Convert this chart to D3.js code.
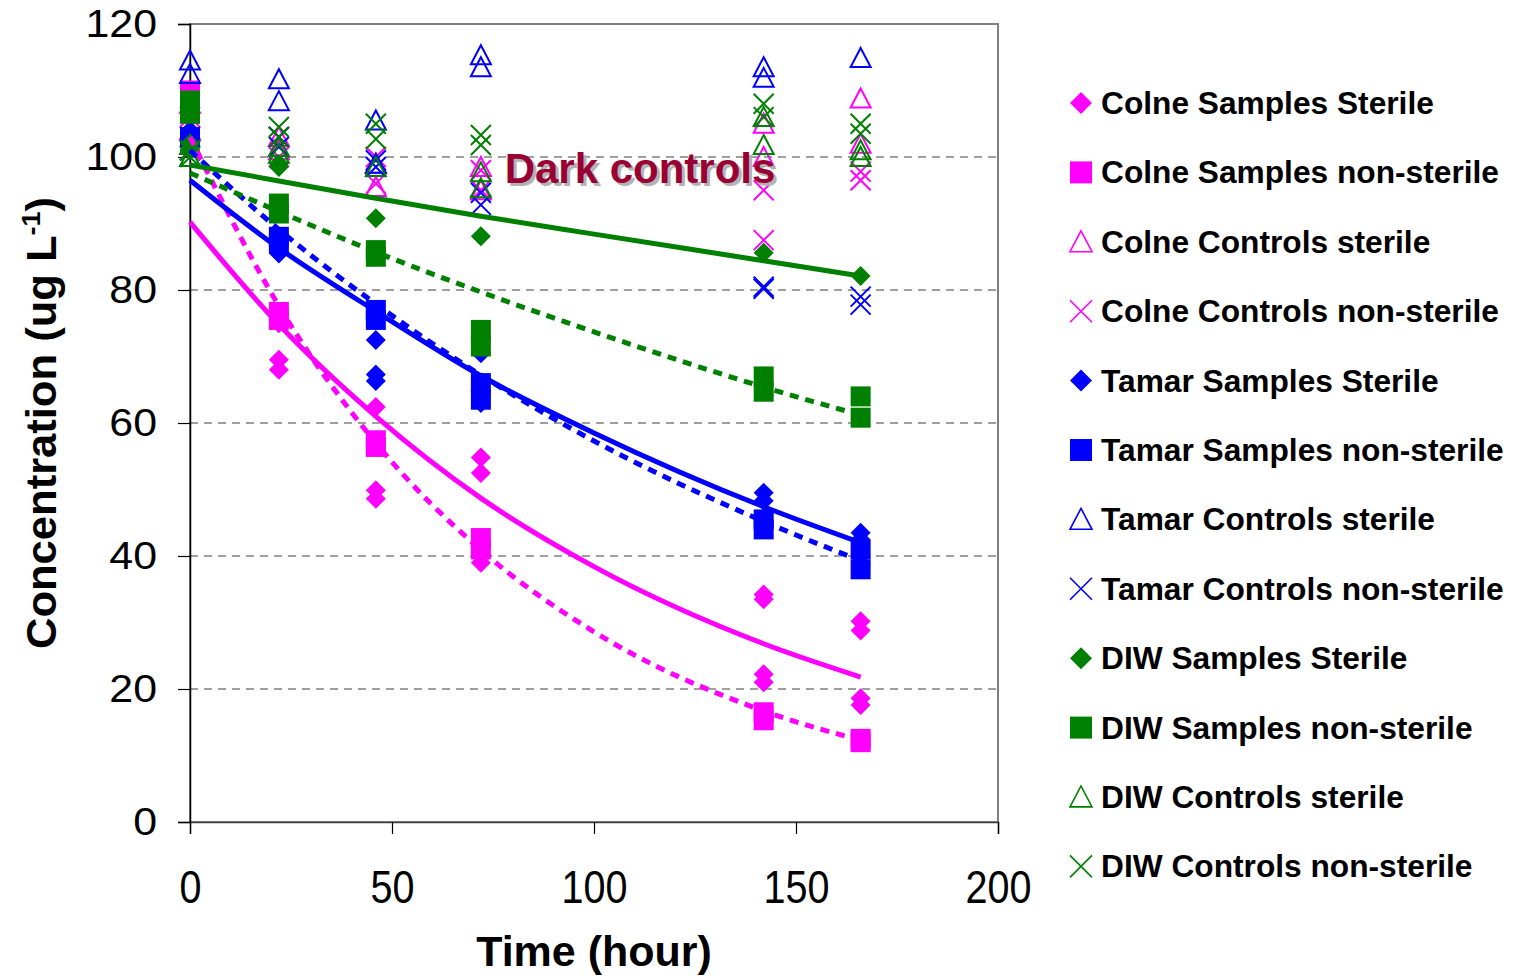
<!DOCTYPE html>
<html>
<head>
<meta charset="utf-8">
<script src="https://cdn.jsdelivr.net/npm/d3@7"></script>
<style>
  body { margin: 0; background: #fff; }
  svg text { font-family: Arial, "Liberation Sans", sans-serif; }
</style>
</head>
<body>
<svg width="1514" height="976"></svg>
<script>
// sampling times (hours)
const times = [0, 22, 46, 72, 142, 166];

// replicate values at each time
const colneSamplesSterile = [[101, 103], [76.5, 75, 69.5, 68], [62.4, 57, 49.9, 48.6], [54.8, 52.5, 40, 39], [34.2, 33.5, 22.2, 21], [30.2, 28.8, 18.6, 17.6]];
const colneSamplesNonSterile = [[110, 106.5], [76.7, 75.5], [57.4, 56.4], [42.7, 41], [16.5, 15.3], [12.5, 12]];
const colneControlsSterile = [[108, 104], [103, 101], [99, 95.5], [98.5, 95], [105, 100], [108.8, 102]];
const colneControlsNonSterile = [[106, 101], [103, 100], [100, 96], [98, 95], [95, 87.5], [97.8, 96.5]];
const tamarSamplesSterile = [[104, 101], [86.5, 85.5], [76, 72.5, 67.3, 66.3], [70.5, 65, 64, 63], [49.5, 48.3, 45, 44.5], [43.5, 42.5, 40, 39]];
const tamarSamplesNonSterile = [[108, 103], [88, 87], [77, 75.5], [66, 63.5], [45.5, 44], [41, 38]];
const tamarControlsSterile = [[114.5, 112.5], [111.7, 108.4], [105.5, 99], [115.3, 113.5], [113.5, 111.9], [114.9]];
const tamarControlsNonSterile = [[103, 101], [103, 101.5], [99.5, 98.5], [94.6, 92.8], [80.5, 80.2], [79, 77.8]];
const diwSamplesSterile = [[102, 101], [99, 98.5], [90.8], [88.1], [85.6], [82.1]];
const diwSamplesNonSterile = [[108.5, 106.5], [93, 91.5], [86, 85], [74, 71.5], [67, 64.7], [64, 60.8]];
const diwControlsSterile = [[101.8, 100], [101.5, 100.5], [98.5], [97.7, 95.3], [106, 101.8], [101, 100]];
const diwControlsNonSterile = [[101, 100], [104.5, 103], [105, 102.7], [103.3, 101.8], [108, 106], [105, 103.5]];

// trend lines
const trendTimes = [0, 22, 46, 72, 100, 142, 166];
const colneSterileTrend = [90.2, 74.8, 61.0, 48.7, 38.4, 26.8, 21.8];
const colneNonSterileTrend = [103, 77.6, 57.0, 40.9, 28.6, 16.7, 12.3];
const tamarSterileTrend = [96.5, 86.3, 76.8, 67.1, 58.5, 47.4, 42.0];
const tamarNonSterileTrend = [101, 89.1, 77.9, 67.2, 57.3, 45.2, 39.3];
const diwSterileTrend = [98.8, 96.4, 93.8, 91.1, 88.4, 84.4, 82.1];
const diwNonSterileTrend = [97.6, 91.8, 85.7, 79.7, 73.7, 65.4, 61.2];

const xTicks = [0, 50, 100, 150, 200];
const yTicks = [0, 20, 40, 60, 80, 100, 120];
const gridValues = [20, 40, 60, 80, 100];

const magenta = '#ff00ff', blue = '#0000ff', green = '#008000';

const series = [
  { name: 'Colne Samples Sterile', color: magenta, shape: 'diamond', values: colneSamplesSterile },
  { name: 'Colne Samples non-sterile', color: magenta, shape: 'square', values: colneSamplesNonSterile },
  { name: 'Colne Controls sterile', color: magenta, shape: 'triangle', values: colneControlsSterile },
  { name: 'Colne Controls non-sterile', color: magenta, shape: 'cross', values: colneControlsNonSterile },
  { name: 'Tamar Samples Sterile', color: blue, shape: 'diamond', values: tamarSamplesSterile },
  { name: 'Tamar Samples non-sterile', color: blue, shape: 'square', values: tamarSamplesNonSterile },
  { name: 'Tamar Controls sterile', color: blue, shape: 'triangle', values: tamarControlsSterile },
  { name: 'Tamar Controls non-sterile', color: blue, shape: 'cross', values: tamarControlsNonSterile },
  { name: 'DIW Samples Sterile', color: green, shape: 'diamond', values: diwSamplesSterile },
  { name: 'DIW Samples non-sterile', color: green, shape: 'square', values: diwSamplesNonSterile },
  { name: 'DIW Controls sterile', color: green, shape: 'triangle', values: diwControlsSterile },
  { name: 'DIW Controls non-sterile', color: green, shape: 'cross', values: diwControlsNonSterile }
];

const trends = [
  { color: magenta, dashed: false, values: colneSterileTrend },
  { color: magenta, dashed: true, values: colneNonSterileTrend },
  { color: blue, dashed: false, values: tamarSterileTrend },
  { color: blue, dashed: true, values: tamarNonSterileTrend },
  { color: green, dashed: false, values: diwSterileTrend },
  { color: green, dashed: true, values: diwNonSterileTrend }
];

const svg = d3.select('svg');

const plot = { left: 190, right: 998, top: 24, bottom: 822 };

const xScale = d3.scaleLinear().domain([0, 200]).range([plot.left, plot.right]);
const yScale = d3.scaleLinear().domain([0, 120]).range([plot.bottom, plot.top]);

// plot frame
svg.append('rect')
  .attr('x', plot.left).attr('y', plot.top)
  .attr('width', plot.right - plot.left).attr('height', plot.bottom - plot.top)
  .attr('fill', 'none').attr('stroke', '#808080').attr('stroke-width', 2);

// dashed grid
svg.append('g').selectAll('line').data(gridValues)
  .enter().append('line')
    .attr('x1', plot.left).attr('x2', plot.right)
    .attr('y1', d => yScale(d)).attr('y2', d => yScale(d))
    .attr('stroke', '#808080').attr('stroke-width', 1.3)
    .attr('stroke-dasharray', '8,6');

// axes
const xAxisG = svg.append('g')
  .attr('transform', `translate(0,${plot.bottom})`)
  .call(d3.axisBottom(xScale).tickValues(xTicks).tickSize(12).tickPadding(36));
xAxisG.select('.domain').attr('stroke', '#404040').attr('stroke-width', 1.5);
xAxisG.selectAll('.tick line').attr('stroke', '#000').attr('stroke-width', 1.2);
xAxisG.selectAll('text')
  .attr('font-size', 46).attr('fill', '#000')
  .attr('transform', 'scale(0.86,1)');

const yAxisG = svg.append('g')
  .attr('transform', `translate(${plot.left},0)`)
  .call(d3.axisLeft(yScale).tickValues(yTicks).tickSize(12).tickPadding(30));
yAxisG.select('.domain').attr('stroke', '#000').attr('stroke-width', 1.5);
yAxisG.selectAll('.tick line').attr('stroke', '#000').attr('stroke-width', 1.2);
yAxisG.selectAll('text')
  .attr('font-size', 39).attr('fill', '#000')
  .attr('transform', 'scale(1.1,1)')
  .attr('x', -33 / 1.1);

// axis titles
svg.append('text')
  .attr('x', xScale(100)).attr('y', 966)
  .attr('text-anchor', 'middle')
  .attr('font-size', 43).attr('font-weight', 'bold')
  .text('Time (hour)');

const yTitle = svg.append('text')
  .attr('transform', `translate(56,${(plot.top + plot.bottom) / 2}) rotate(-90)`)
  .attr('text-anchor', 'middle')
  .attr('font-size', 42).attr('font-weight', 'bold')
  .attr('textLength', 452).attr('lengthAdjust', 'spacingAndGlyphs');
yTitle.append('tspan').text('Concentration (ug L');
yTitle.append('tspan').attr('font-size', 26).attr('dy', -16).text('-1');
yTitle.append('tspan').attr('dy', 16).text(')');

// marker shapes
const markerPath = (shape, s) => {
  if (shape === 'diamond') return `M0,${-s}L${s},0L0,${s}L${-s},0Z`;
  if (shape === 'square') return `M${-s},${-s}H${s}V${s}H${-s}Z`;
  if (shape === 'triangle') return `M0,${-s}L${s},${s * 0.9}L${-s},${s * 0.9}Z`;
  return `M${-s},${-s}L${s},${s}M${s},${-s}L${-s},${s}`;
};
const styleMarker = (sel, d) => {
  const open = d.shape === 'triangle' || d.shape === 'cross';
  sel.attr('fill', open ? 'none' : d.color)
    .attr('stroke', d.color)
    .attr('stroke-width', open ? 2 : 0);
};

// points
const points = [];
series.forEach(s => {
  s.values.forEach((reps, i) => {
    reps.forEach(v => points.push({ s, t: times[i], v }));
  });
});

svg.append('g').selectAll('path').data(points)
  .enter().append('path')
    .attr('transform', d => `translate(${xScale(d.t)},${yScale(d.v)})`)
    .attr('d', d => markerPath(d.s.shape, 10))
    .each(function (d) { styleMarker(d3.select(this), d.s); });

// trend lines
const line = d3.line()
  .x((d, i) => xScale(trendTimes[i]))
  .y(d => yScale(d))
  .curve(d3.curveMonotoneX);

svg.append('g').selectAll('path').data(trends)
  .enter().append('path')
    .attr('d', d => line(d.values))
    .attr('fill', 'none')
    .attr('stroke', d => d.color)
    .attr('stroke-width', 5)
    .attr('stroke-dasharray', d => d.dashed ? '9,7' : null);

// annotation
const note = svg.append('g');
note.append('text')
  .attr('x', 643).attr('y', 186)
  .attr('text-anchor', 'middle')
  .attr('font-size', 42).attr('font-weight', 'bold')
  .attr('fill', '#b3b3b3')
  .text('Dark controls');
note.append('text')
  .attr('x', 640).attr('y', 183)
  .attr('text-anchor', 'middle')
  .attr('font-size', 42).attr('font-weight', 'bold')
  .attr('fill', '#990033')
  .text('Dark controls');

// legend
const legend = svg.append('g');
const legendRows = legend.selectAll('g').data(series)
  .enter().append('g')
    .attr('transform', (d, i) => `translate(1081,${103 + i * 69.4})`);
legendRows.append('path')
  .attr('d', d => markerPath(d.shape, 11))
  .each(function (d) { styleMarker(d3.select(this), d); })
  .attr('stroke-width', d => (d.shape === 'triangle' || d.shape === 'cross') ? 1.6 : 0);
legendRows.append('text')
  .attr('x', 20).attr('y', 11)
  .attr('font-size', 31.7).attr('font-weight', 'bold')
  .text(d => d.name);
</script>
</body>
</html>
